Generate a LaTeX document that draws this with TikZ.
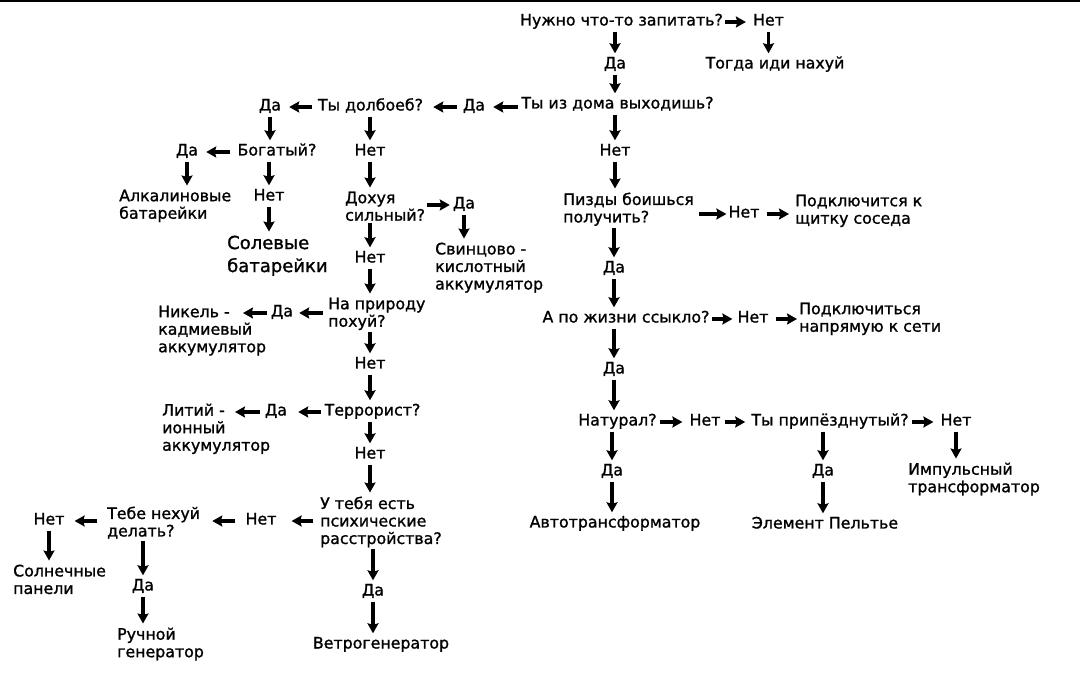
\documentclass[tikz,border=0pt]{standalone}
\usepackage{fontspec}
\setmainfont[FakeBold=1.2,AutoFakeBold=1.2]{DejaVu Sans}
\usetikzlibrary{arrows.meta}
\begin{document}
\begin{tikzpicture}[x=1pt,y=-1pt,
  lbl/.style={inner sep=2pt, text height=11pt, text depth=4pt, font=\fontsize{15.8}{17.5}\bfseries},
  ml/.style={inner sep=2pt, align=left, anchor=north west, font=\fontsize{15.8}{17.5}\bfseries},
  arr/.style={line width=3.2pt, -{Stealth[length=10pt,width=11pt,inset=1.5pt]}},
  varr/.style={arr, shorten >=2pt}]
\useasboundingbox (0,0) rectangle (1080,684);
\fill[black] (0,0) rectangle (1080,2);
% single-line nodes
\node[lbl] (q1) at (621.5,22) {Нужно что-то запитать?};
\node[lbl] (n1) at (768.5,22) {Нет};
\node[lbl] (t1) at (775,65) {Тогда иди нахуй};
\node[lbl] (d1) at (615,65) {Да};
\node[lbl] (q2) at (617.5,105) {Ты из дома выходишь?};
\node[lbl] (d2) at (474,107) {Да};
\node[lbl] (q3) at (370.5,107) {Ты долбоеб?};
\node[lbl] (d3) at (270,107) {Да};
\node[lbl] (q4) at (277,152) {Богатый?};
\node[lbl] (d4) at (187,152) {Да};
\node[lbl] (n4) at (269,197) {Нет};
\node[lbl] (n3) at (370,152) {Нет};
\node[lbl] (d5) at (464,205) {Да};
\node[lbl] (n5) at (370,259) {Нет};
\node[lbl] (d6) at (282,313) {Да};
\node[lbl] (n6) at (370,365) {Нет};
\node[lbl] (q7) at (372.5,412) {Террорист?};
\node[lbl] (d7) at (276,412) {Да};
\node[lbl] (n7) at (370,455) {Нет};
\node[lbl] (n8) at (261,521) {Нет};
\node[lbl] (n9) at (49,521) {Нет};
\node[lbl] (d9) at (143,587) {Да};
\node[lbl] (d8) at (373,592) {Да};
\node[lbl] (wind) at (381,645) {Ветрогенератор};
\node[lbl] (n2) at (615,152) {Нет};
\node[lbl] (n10) at (744,214) {Нет};
\node[lbl] (d10) at (614,269) {Да};
\node[lbl] (q11) at (626,319) {А по жизни ссыкло?};
\node[lbl] (n11) at (753,319) {Нет};
\node[lbl] (d11) at (614,370) {Да};
\node[lbl] (q12) at (617.5,422) {Натурал?};
\node[lbl] (n12) at (705,422) {Нет};
\node[lbl] (q13) at (830,422) {Ты припёзднутый?};
\node[lbl] (n13) at (956,422) {Нет};
\node[lbl] (d13) at (823,472) {Да};
\node[lbl] (pel) at (825,525) {Элемент Пельтье};
\node[lbl] (d12) at (612,472) {Да};
\node[lbl] (auto) at (615,524) {Автотрансформатор};
% multi-line nodes
\node[ml] (alk) at (117,187.5) {Алкалиновые\\батарейки};
\node[ml, font=\fontsize{18}{23}\bfseries] (sol) at (225,233.5) {Солевые\\батарейки};
\node[ml] (q5) at (343,189.5) {Дохуя\\сильный?};
\node[ml] (svin) at (433,240.5) {Свинцово -\\кислотный\\аккумулятор};
\node[ml] (q6) at (326,295.5) {На природу\\похуй?};
\node[ml] (nik) at (156,303.5) {Никель -\\кадмиевый\\аккумулятор};
\node[ml] (lit) at (160,401.5) {Литий -\\ионный\\аккумулятор};
\node[ml] (q8) at (318,494.5) {У тебя есть\\психические\\расстройства?};
\node[ml] (q9) at (105,504.5) {Тебе нехуй\\делать?};
\node[ml] (sun) at (11,562.5) {Солнечные\\панели};
\node[ml] (hand) at (115,625.5) {Ручной\\генератор};
\node[ml] (q10) at (561,190.5) {Пизды боишься\\получить?};
\node[ml] (neigh) at (793,192.5) {Подключится к\\щитку соседа};
\node[ml] (net) at (797,300.5) {Подключиться\\напрямую к сети};
\node[ml] (imp) at (906,460.5) {Импульсный\\трансформатор};
\coordinate (nikE) at ([xshift=87pt]nik.west);
\coordinate (litE) at ([xshift=75pt]lit.west);
% horizontal arrows
\draw[arr, shorten >=5pt] (q1.east) -- (n1.west);
\draw[arr, shorten <=1pt, shorten >=6pt] (q2.west |- d2.east) -- (d2.east);
\draw[arr, shorten <=4pt, shorten >=8pt] (d2.west) -- (d2.west -| q3.east);
\draw[arr, shorten <=4pt, shorten >=6pt] (q3.west) -- (q3.west -| d3.east);
\draw[arr, shorten <=5pt, shorten >=6pt] (q4.west) -- (q4.west -| d4.east);
\draw[arr, shorten >=1pt] (q5.east |- d5.west) -- (d5.west);
\draw[arr, shorten <=3pt, shorten >=4pt] (q6.west |- d6.east) -- (d6.east);
\draw[arr, shorten <=2pt] (d6.west) -- (d6.west -| nikE);
\draw[arr, shorten <=1pt, shorten >=9pt] (q7.west) -- (q7.west -| d7.east);
\draw[arr, shorten <=3pt] (d7.west) -- (d7.west -| litE);
\draw[arr, shorten <=5pt, shorten >=13pt] (q8.west |- n8.east) -- (n8.east);
\draw[arr, shorten <=8pt, shorten >=10pt] (n8.west) -- (n8.west -| q9.east);
\draw[arr, shorten <=8pt, shorten >=8pt] (q9.west |- n9.east) -- (n9.east);
\draw[arr, shorten <=3pt] (q10.east |- n10.west) -- (n10.west);
\draw[arr, shorten <=5pt, shorten >=4pt] (n10.east) -- (n10.east -| neigh.west);
\draw[arr, shorten >=3pt] (q11.east) -- (n11.west);
\draw[arr, shorten <=5pt] (n11.east) -- (n11.east -| net.west);
\draw[arr, shorten <=1pt, shorten >=5pt] (q12.east) -- (n12.west);
\draw[arr, shorten <=2pt, shorten >=4pt] (n12.east) -- (q13.west);
\draw[arr, shorten <=1pt, shorten >=5pt] (q13.east) -- (n13.west);
% vertical arrows
\draw[varr] (d1.north |- q1.south) -- (d1.north);
\draw[varr] (n1.south) -- (n1.south |- t1.north);
\draw[varr] (d1.south) -- (d1.south |- q2.north);
\draw[varr] (n2.north |- q2.south) -- (n2.north);
\draw[varr] (d3.south) -- (d3.south |- q4.north);
\draw[varr] (d4.south) -- (d4.south |- alk.north);
\draw[varr] (n4.north |- q4.south) -- (n4.north);
\draw[varr] (n4.south) -- (n4.south |- sol.north);
\draw[varr] (n3.north |- q3.south) -- (n3.north);
\draw[varr] (n3.south) -- (n3.south |- q5.north);
\draw[varr] (d5.south) -- (d5.south |- svin.north);
\draw[varr] (n5.north |- q5.south) -- (n5.north);
\draw[varr] (n5.south) -- (n5.south |- q6.north);
\draw[varr] (n6.north |- q6.south) -- (n6.north);
\draw[varr] (n6.south) -- (n6.south |- q7.north);
\draw[varr] (n7.north |- q7.south) -- (n7.north);
\draw[varr] (n7.south) -- (n7.south |- q8.north);
\draw[varr] (d8.north |- q8.south) -- (d8.north);
\draw[varr] (d8.south) -- (d8.south |- wind.north);
\draw[varr] (n9.south) -- (n9.south |- sun.north);
\draw[varr] (d9.north |- q9.south) -- (d9.north);
\draw[varr] (d9.south) -- (d9.south |- hand.north);
\draw[varr] (n2.south) -- (n2.south |- q10.north);
\draw[varr] (d10.north |- q10.south) -- (d10.north);
\draw[varr] (d10.south) -- (d10.south |- q11.north);
\draw[varr] (d11.north |- q11.south) -- (d11.north);
\draw[varr] (d11.south) -- (d11.south |- q12.north);
\draw[varr] (d12.north |- q12.south) -- (d12.north);
\draw[varr] (d12.south) -- (d12.south |- auto.north);
\draw[varr] (d13.north |- q13.south) -- (d13.north);
\draw[varr] (d13.south) -- (d13.south |- pel.north);
\draw[varr] (n13.south) -- (n13.south |- imp.north);
\end{tikzpicture}
\end{document}
